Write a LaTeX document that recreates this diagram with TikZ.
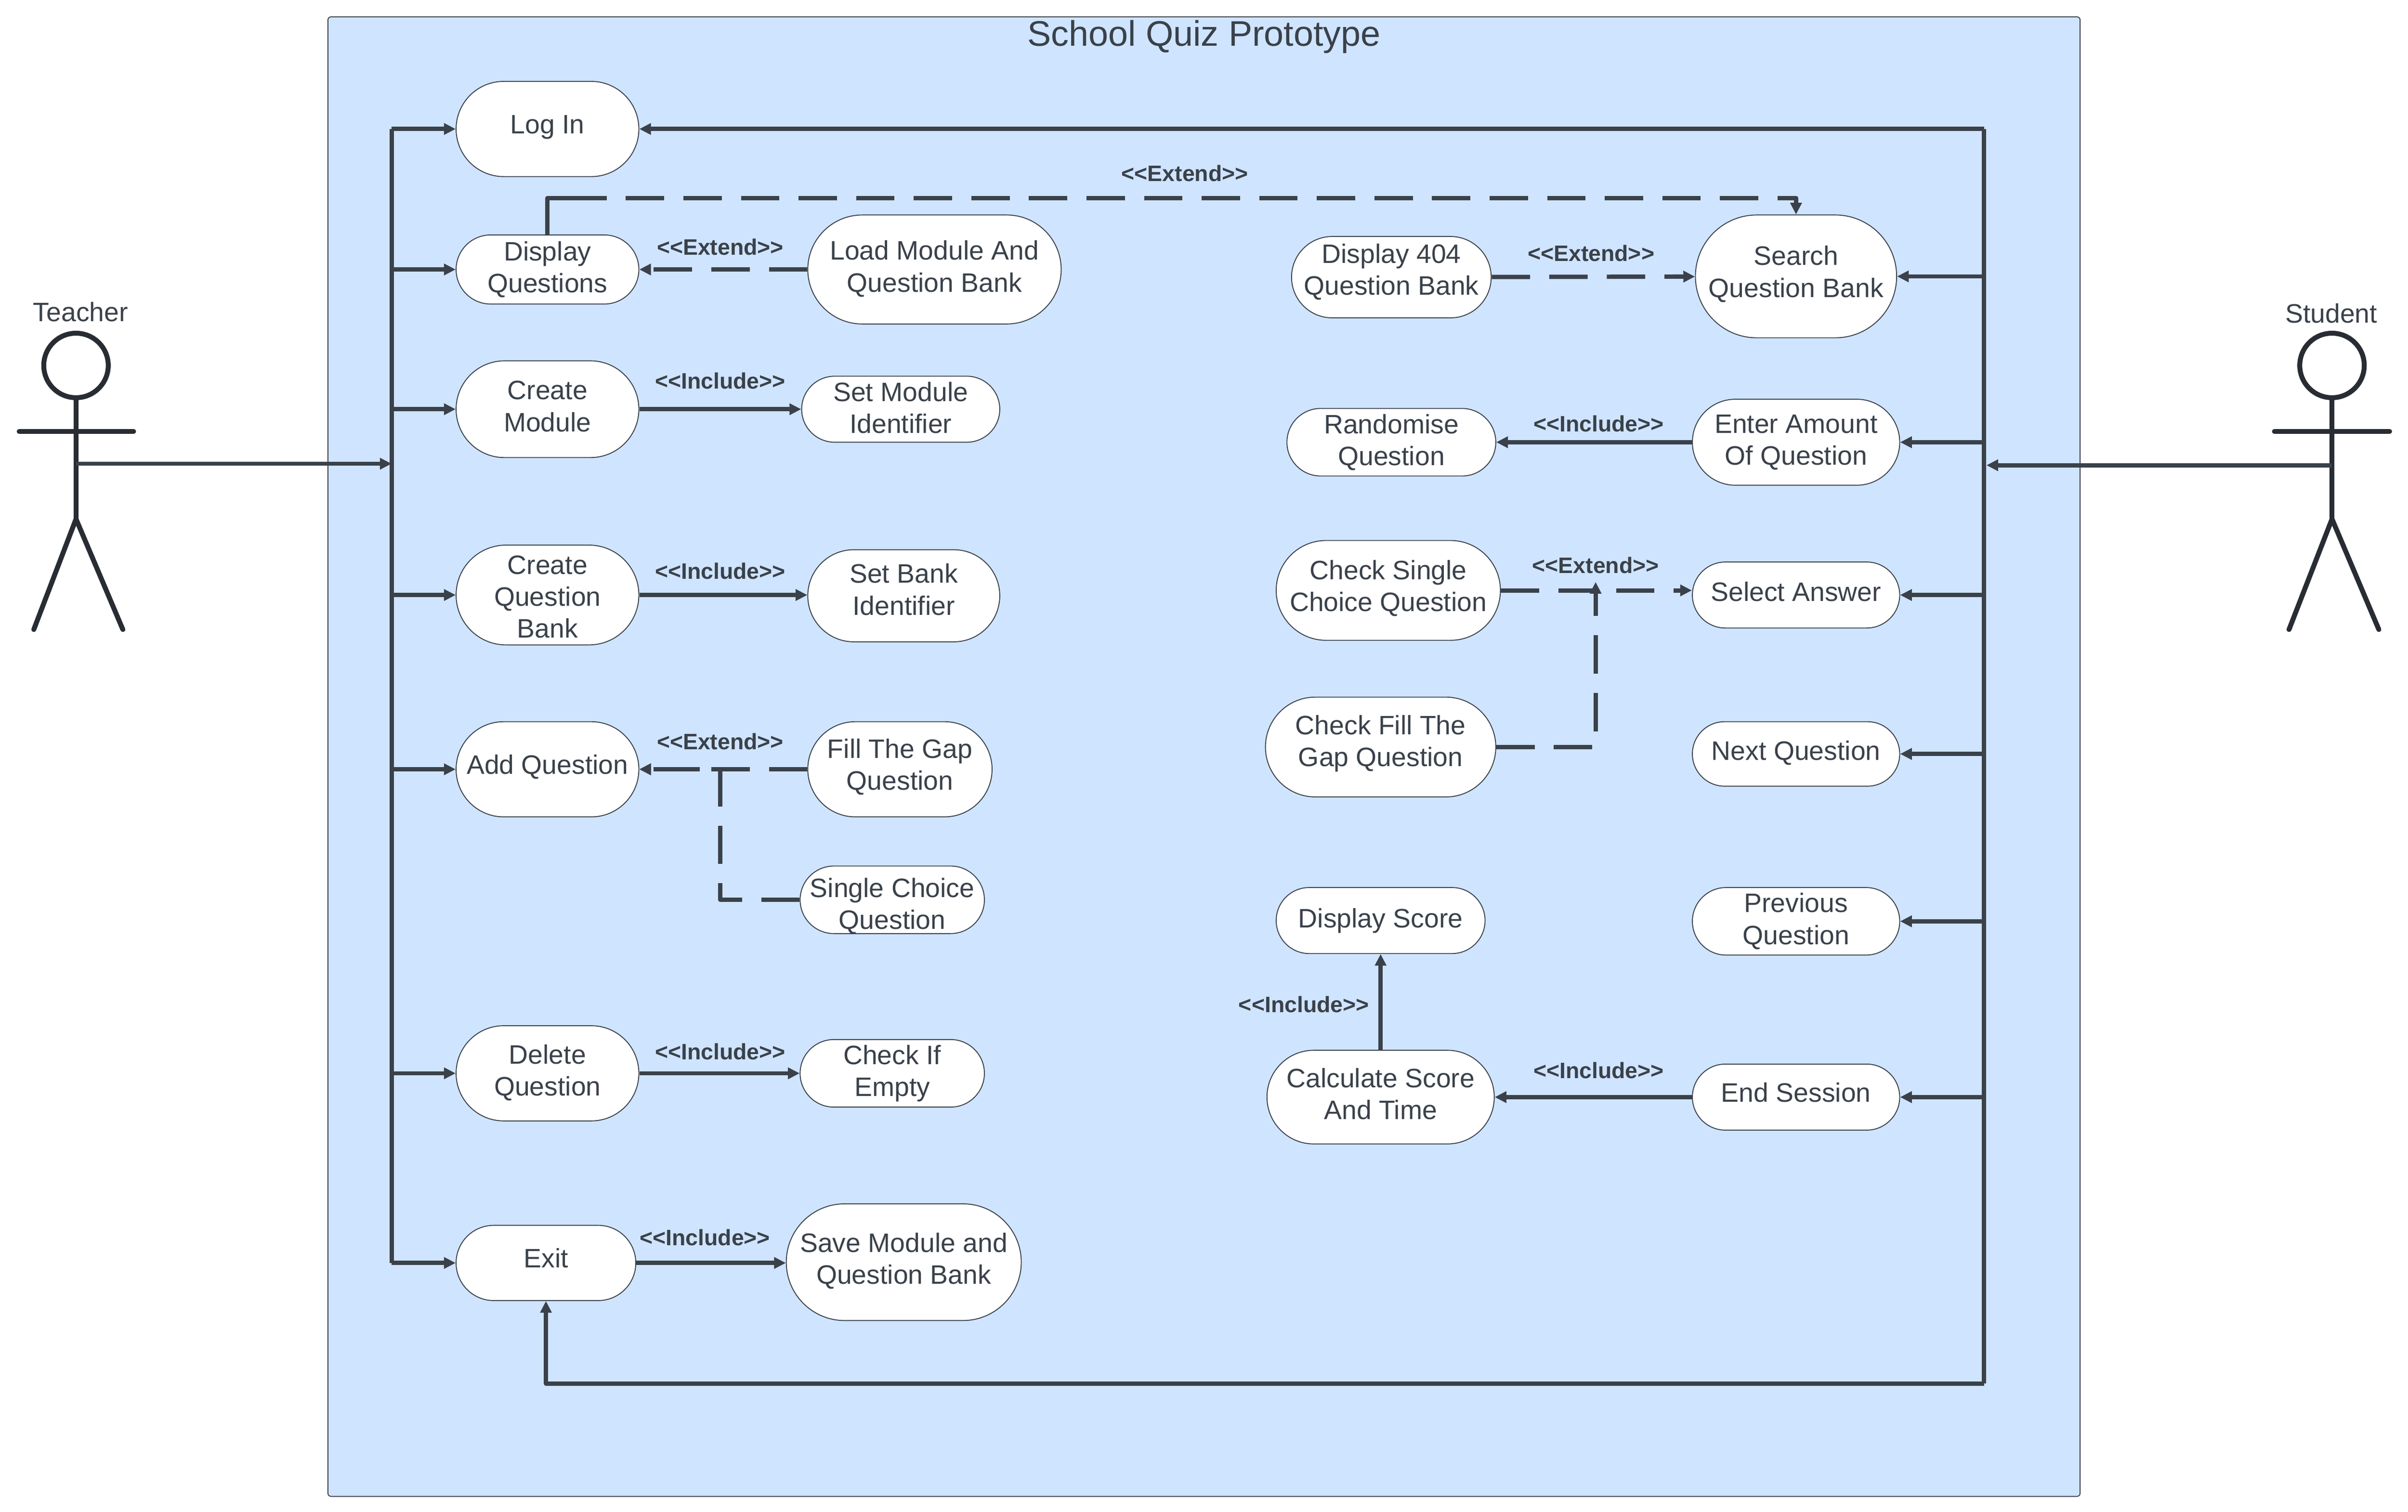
\documentclass[tikz,border=0pt]{standalone}
\usepackage{fontspec}
\setmainfont{Liberation Sans}
\usetikzlibrary{arrows.meta}
\definecolor{inkGrey}{HTML}{3A414A}
\definecolor{actorGrey}{HTML}{282C33}
\definecolor{systemBlue}{HTML}{CFE4FF}
\newcommand{\liftText}[2]{\raisebox{#1}[\height][\depth]{\begin{tabular}{@{}c@{}}#2\end{tabular}}}
\tikzset{
	useCase/.style 2 args={
		rectangle,
		draw=inkGrey,
		fill=white,
		line width=0.03cm,
		inner sep=0pt,
		align=center,
		text=inkGrey,
		font=\fontsize{24.7}{29.6}\selectfont,
		minimum width=#1*0.05cm,
		minimum height=#2*0.05cm,
		rounded corners=#2*0.025cm
	},
	linkLabel/.style={
		text=inkGrey,
		inner sep=0pt,
		font=\fontsize{20.7}{24}\selectfont\bfseries
	},
	actorLabel/.style={
		text=inkGrey,
		inner sep=0pt,
		font=\fontsize{24.7}{29.6}\selectfont
	},
	actorHead/.style={
		circle,
		draw=actorGrey,
		line width=0.16cm,
		minimum size=2.1cm,
		inner sep=0pt
	},
	actorLine/.style={
		draw=actorGrey,
		line width=0.16cm,
		line cap=round
	},
	busLine/.style={
		draw=inkGrey,
		line width=0.14cm,
		line join=round
	},
	flow/.style={
		busLine,
		-{Triangle[length=0.38cm,width=0.36cm]}
	},
	dashFlow/.style={
		flow,
		dash pattern=on 1.25cm off 0.625cm
	},
}

\begin{document}
\begin{tikzpicture}[x=0.05cm,y=-0.05cm]
\useasboundingbox (0,0) rectangle (1568,984.6);

\node[rectangle, rounded corners=0.1cm, draw=inkGrey, line width=0.03cm, fill=systemBlue, minimum width=57.05cm, minimum height=48.18cm, inner sep=0pt] (system) at (784,492.75) {};
\node[actorLabel, font=\fontsize{32.9}{36}\selectfont] (title) at (784,24) {School Quiz Prototype};

\node[useCase={119}{62}] (logIn) at (356.5,84) {\liftText{1.4pt}{Log In}};
	\node[useCase={119}{45}] (displayQuestions) at (356.5,175.5) {Display\\Questions};
		\node[useCase={165}{71}] (loadModule) at (608.5,175.5) {\liftText{0pt}{Load Module And\\Question Bank}};
	\node[useCase={119}{63}] (createModule) at (356.5,266.5) {\liftText{0pt}{Create\\Module}};
		\node[useCase={129}{43}] (setModule) at (586.5,266.5) {\liftText{-1.4pt}{Set Module\\Identifier}};
	\node[useCase={119}{65}] (createBank) at (356.5,387.5) {\liftText{-4.2pt}{Create\\Question\\Bank}};
		\node[useCase={125}{60}] (setBank) at (588.5,388) {\liftText{2.9pt}{Set Bank\\Identifier}};
	\node[useCase={119}{62}] (addQuestion) at (356.5,501) {\liftText{1.4pt}{Add Question}};
		\node[useCase={120}{62}] (fillGap) at (586,501) {\liftText{1.4pt}{Fill The Gap\\Question}};
		\node[useCase={120}{44}] (singleChoice) at (581,586) {\liftText{-6.4pt}{Single Choice\\Question}};
	\node[useCase={119}{62}] (deleteQuestion) at (356.5,699) {\liftText{0pt}{Delete\\Question}};
		\node[useCase={120}{44}] (checkEmpty) at (581,699) {Check If\\Empty};
	\node[useCase={117}{49}] (exitCase) at (355.5,822.5) {\liftText{1.4pt}{Exit}};
		\node[useCase={153}{76}] (saveModule) at (588.5,822) {\liftText{0.5pt}{Save Module and\\Question Bank}};

\node[useCase={131}{80}] (searchBank) at (1169.5,180) {\liftText{1.4pt}{Search\\Question Bank}};
	\node[useCase={130}{53}] (display404) at (906,180.5) {\liftText{4.3pt}{Display 404\\Question Bank}};
\node[useCase={135}{56}] (enterAmount) at (1169.5,288) {Enter Amount\\Of Question};
	\node[useCase={136}{44}] (randomise) at (906,288) {Randomise\\Question};
\node[useCase={135}{43}] (selectAnswer) at (1169.5,387.5) {\liftText{0pt}{Select Answer}};
	\node[useCase={146}{65}] (checkSingle) at (904,384.5) {\liftText{1.4pt}{Check Single\\Choice Question}};
	\node[useCase={150}{65}] (checkFill) at (899,486.5) {\liftText{2.8pt}{Check Fill The\\Gap Question}};
\node[useCase={135}{42}] (nextQuestion) at (1169.5,491) {\liftText{0pt}{Next Question}};
\node[useCase={135}{44}] (previousQuestion) at (1169.5,600) {Previous\\Question};
\node[useCase={135}{43}] (endSession) at (1169.5,714.5) {\liftText{1.4pt}{End Session}};
	\node[useCase={148}{61}] (calcScore) at (899,714.5) {\liftText{0pt}{Calculate Score\\And Time}};
	\node[useCase={136}{43}] (displayScore) at (899,599.5) {Display Score};

\node[linkLabel] (extendSearch) at (771.5,113) {<{}<Extend>{}>};
\node[linkLabel] (extendLoad) at (469,161) {<{}<Extend>{}>};
\node[linkLabel] (extend404) at (1036,165) {<{}<Extend>{}>};
\node[linkLabel] (extendSelect) at (1039,368) {<{}<Extend>{}>};
\node[linkLabel] (extendAdd) at (469,483) {<{}<Extend>{}>};
\node[linkLabel] (includeModule) at (469,248) {<{}<Include>{}>};
\node[linkLabel] (includeBank) at (469,372) {<{}<Include>{}>};
\node[linkLabel] (includeRandom) at (1041,276) {<{}<Include>{}>};
\node[linkLabel] (includeEmpty) at (469,685) {<{}<Include>{}>};
\node[linkLabel] (includeSave) at (459,806) {<{}<Include>{}>};
\node[linkLabel] (includeScore) at (849,654) {<{}<Include>{}>};
\node[linkLabel] (includeCalc) at (1041,697) {<{}<Include>{}>};

% actors
\node[actorLabel] (teacher) at (52.5,203) {Teacher};
\node[actorHead] (teacherHead) at (49.5,238) {};
\coordinate (teacherHip) at (49.5,338);
\coordinate (teacherArmL) at (12.5,281);
\coordinate (teacherArmR) at (87,281);
\coordinate (teacherLegL) at (22,410);
\coordinate (teacherLegR) at (80,410);
\draw[actorLine] (teacherHead.south) -- (teacherHip);
\draw[actorLine] (teacherArmL) -- (teacherArmR);
\draw[actorLine] (teacherLegL) -- (teacherHip) -- (teacherLegR);

\node[actorLabel] (student) at (1518,204) {Student};
\node[actorHead] (studentHead) at (1518.5,238) {};
\coordinate (studentHip) at (1518.5,338);
\coordinate (studentArmL) at (1481,281);
\coordinate (studentArmR) at (1556,281);
\coordinate (studentLegL) at (1490.5,410);
\coordinate (studentLegR) at (1549,410);
\draw[actorLine] (studentHead.south) -- (studentHip);
\draw[actorLine] (studentArmL) -- (studentArmR);
\draw[actorLine] (studentLegL) -- (studentHip) -- (studentLegR);

% buses
\coordinate (busLeftTop) at (255,84);
\coordinate (busLeftBottom) at (255,822.5);
\coordinate (busRightTop) at (1292,84);
\coordinate (busRightBottom) at (1292,901);
\coordinate (teacherHand) at (49.5,302);
\coordinate (teacherEnd) at (255,302);
\coordinate (studentHand) at (1518.5,303);
\coordinate (studentEnd) at (1293.5,303);

\draw[busLine] (busLeftTop) -- (busLeftBottom);
\draw[busLine] (busRightTop) -- (busRightBottom);
\draw[flow] (teacherHand) -- (teacherEnd);
\draw[flow] (studentHand) -- (studentEnd);

\draw[flow] (busLeftTop) -- (logIn.west);
\draw[flow] (busLeftTop |- displayQuestions.west) -- (displayQuestions.west);
\draw[flow] (busLeftTop |- createModule.west) -- (createModule.west);
\draw[flow] (busLeftTop |- createBank.west) -- (createBank.west);
\draw[flow] (busLeftTop |- addQuestion.west) -- (addQuestion.west);
\draw[flow] (busLeftTop |- deleteQuestion.west) -- (deleteQuestion.west);
\draw[flow] (busLeftBottom) -- (exitCase.west);

\draw[flow] (busRightTop) -- (logIn.east);
\draw[flow] (busRightTop |- searchBank.east) -- (searchBank.east);
\draw[flow] (busRightTop |- enterAmount.east) -- (enterAmount.east);
\draw[flow] (busRightTop |- selectAnswer.east) -- (selectAnswer.east);
\draw[flow] (busRightTop |- nextQuestion.east) -- (nextQuestion.east);
\draw[flow] (busRightTop |- previousQuestion.east) -- (previousQuestion.east);
\draw[flow] (busRightTop |- endSession.east) -- (endSession.east);
\draw[flow] (busRightBottom) -| (exitCase.south);

% include links
\draw[flow] (createModule) -- (setModule);
\draw[flow] (createBank) -- (createBank -| setBank.west);
\draw[flow] (deleteQuestion) -- (checkEmpty);
\draw[flow] (exitCase) -- (exitCase -| saveModule.west);
\draw[flow] (enterAmount) -- (randomise);
\draw[flow] (endSession) -- (calcScore);
\draw[flow] (calcScore) -- (displayScore);

% extend links
\coordinate (topStub) at (370,129);
\coordinate (fillJoin) at (1039,379);
\coordinate (gapTurn) at (469,501);
\draw[busLine] (displayQuestions.north) |- (topStub);
\draw[dashFlow] (topStub) -| (searchBank.north);
\draw[dashFlow] (loadModule) -- (displayQuestions);
\draw[dashFlow] (display404) -- (searchBank);
\draw[dashFlow] (checkSingle.east) -- (checkSingle.east -| selectAnswer.west);
\draw[dashFlow] (checkFill.east) -| (fillJoin);
\draw[dashFlow] (fillGap) -- (addQuestion);
\draw[dashFlow] (singleChoice.west) -| (gapTurn) -- (addQuestion.east);
\end{tikzpicture}
\end{document}
